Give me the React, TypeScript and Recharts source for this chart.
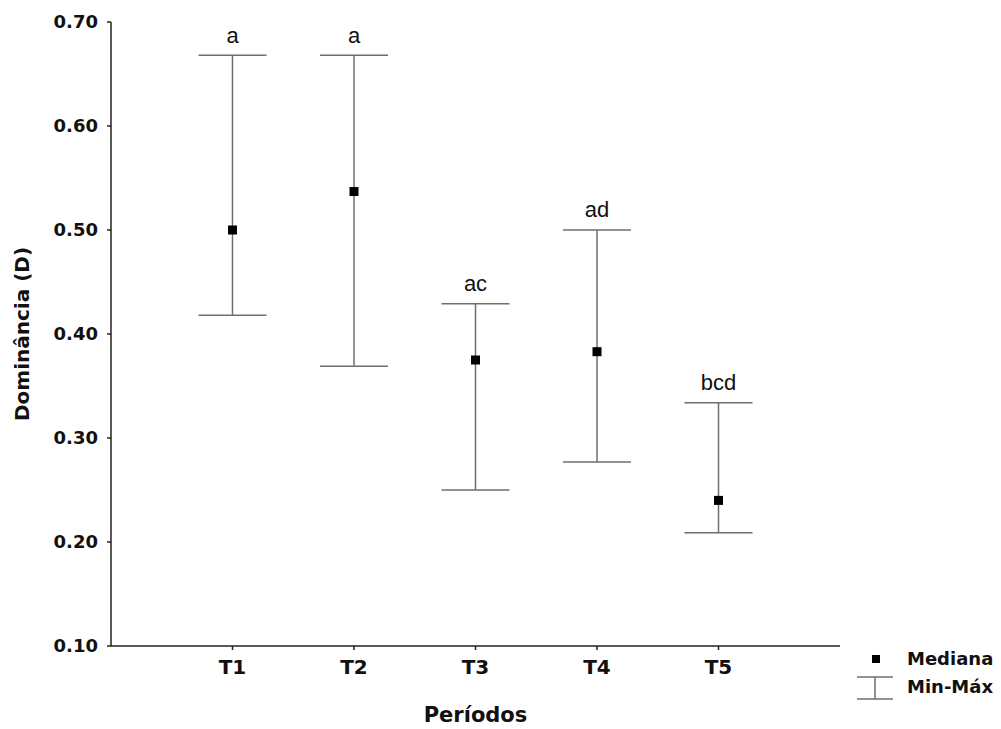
import { ComposedChart, ErrorBar, LabelList, Scatter, XAxis, YAxis } from "recharts";

const periods = ["T1", "T2", "T3", "T4", "T5"];
const medians = [0.5, 0.537, 0.375, 0.383, 0.24];
const minValues = [0.418, 0.369, 0.25, 0.277, 0.209];
const maxValues = [0.668, 0.668, 0.429, 0.5, 0.334];
const groupLetters = ["a", "a", "ac", "ad", "bcd"];
const yTicks = [0.1, 0.2, 0.3, 0.4, 0.5, 0.6, 0.7];

const BOLD_FONT = "'DejaVu Sans', Verdana, sans-serif";
const LETTER_FONT = "'Liberation Sans', Arial, sans-serif";
const BAR_GRAY = "#6f6f6f";

const chartData = periods.map((p, i) => ({
  x: i + 1,
  period: p,
  median: medians[i],
  range: [medians[i] - minValues[i], maxValues[i] - medians[i]],
}));

const letterData = periods.map((p, i) => ({
  x: i + 1,
  max: maxValues[i],
  letter: groupLetters[i],
}));

function MedianSquare(props: any) {
  const { cx, cy } = props;
  if (cx == null || cy == null) return <g />;
  return <rect x={cx - 4.5} y={cy - 4.5} width={9} height={9} fill="#000" />;
}

function Nothing() {
  return <g />;
}

function Legend() {
  return (
    <svg
      width={150}
      height={70}
      style={{ position: "absolute", left: 850, top: 645 }}
    >
      <rect x={22} y={10} width={8} height={8} fill="#000" />
      <text x={57} y={20} fontFamily={BOLD_FONT} fontWeight="bold" fontSize={18} fill="#111">
        Mediana
      </text>
      <line x1={7} x2={43} y1={32} y2={32} stroke={BAR_GRAY} strokeWidth={1.5} />
      <line x1={25} x2={25} y1={32} y2={54} stroke={BAR_GRAY} strokeWidth={1.5} />
      <line x1={7} x2={43} y1={54} y2={54} stroke={BAR_GRAY} strokeWidth={1.5} />
      <text x={57} y={48} fontFamily={BOLD_FONT} fontWeight="bold" fontSize={18} fill="#111">
        Min-Máx
      </text>
    </svg>
  );
}

export default function App() {
  return (
    <div
      style={{
        position: "absolute",
        left: 0,
        top: 0,
        width: 1001,
        height: 729,
        background: "#fff",
      }}
    >
      <ComposedChart
        width={1001}
        height={729}
        data={chartData}
        margin={{ top: 22, right: 161, bottom: 0, left: 0 }}
      >
        <XAxis
          type="number"
          dataKey="x"
          domain={[0, 6]}
          ticks={[1, 2, 3, 4, 5]}
          tickFormatter={(v: number) => periods[v - 1] ?? ""}
          allowDataOverflow
          stroke="#222"
          strokeWidth={1.5}
          tickSize={4}
          tickMargin={10}
          tick={{ fontSize: 20, fontWeight: "bold", fill: "#111", fontFamily: BOLD_FONT }}
          label={{
            value: "Períodos",
            position: "insideBottom",
            offset: 7,
            style: { fontSize: 21, fontWeight: "bold", fill: "#111", fontFamily: BOLD_FONT },
          }}
          height={83}
        />
        <YAxis
          type="number"
          domain={[0.1, 0.7]}
          ticks={yTicks}
          tickFormatter={(v: number) => v.toFixed(2)}
          allowDataOverflow
          stroke="#222"
          strokeWidth={1.5}
          tickSize={4}
          tickMargin={9}
          width={111}
          tick={{ fontSize: 18, fontWeight: "bold", fill: "#111", fontFamily: BOLD_FONT }}
          label={{
            value: "Dominância (D)",
            angle: -90,
            position: "insideLeft",
            offset: 22,
            style: {
              fontSize: 20,
              fontWeight: "bold",
              fill: "#111",
              fontFamily: BOLD_FONT,
              textAnchor: "middle",
            },
          }}
        />
        <Scatter
          data={letterData}
          dataKey="max"
          shape={<Nothing />}
          isAnimationActive={false}
        >
          <LabelList
            dataKey="letter"
            position="top"
            offset={8}
            style={{ fontSize: 22, fill: "#111", fontFamily: LETTER_FONT }}
          />
        </Scatter>
        <Scatter
          dataKey="median"
          shape={<MedianSquare />}
          isAnimationActive={false}
        >
          <ErrorBar
            dataKey="range"
            direction="y"
            width={34}
            stroke={BAR_GRAY}
            strokeWidth={1.5}
            isAnimationActive={false}
          />
        </Scatter>
      </ComposedChart>
      <Legend />
    </div>
  );
}
